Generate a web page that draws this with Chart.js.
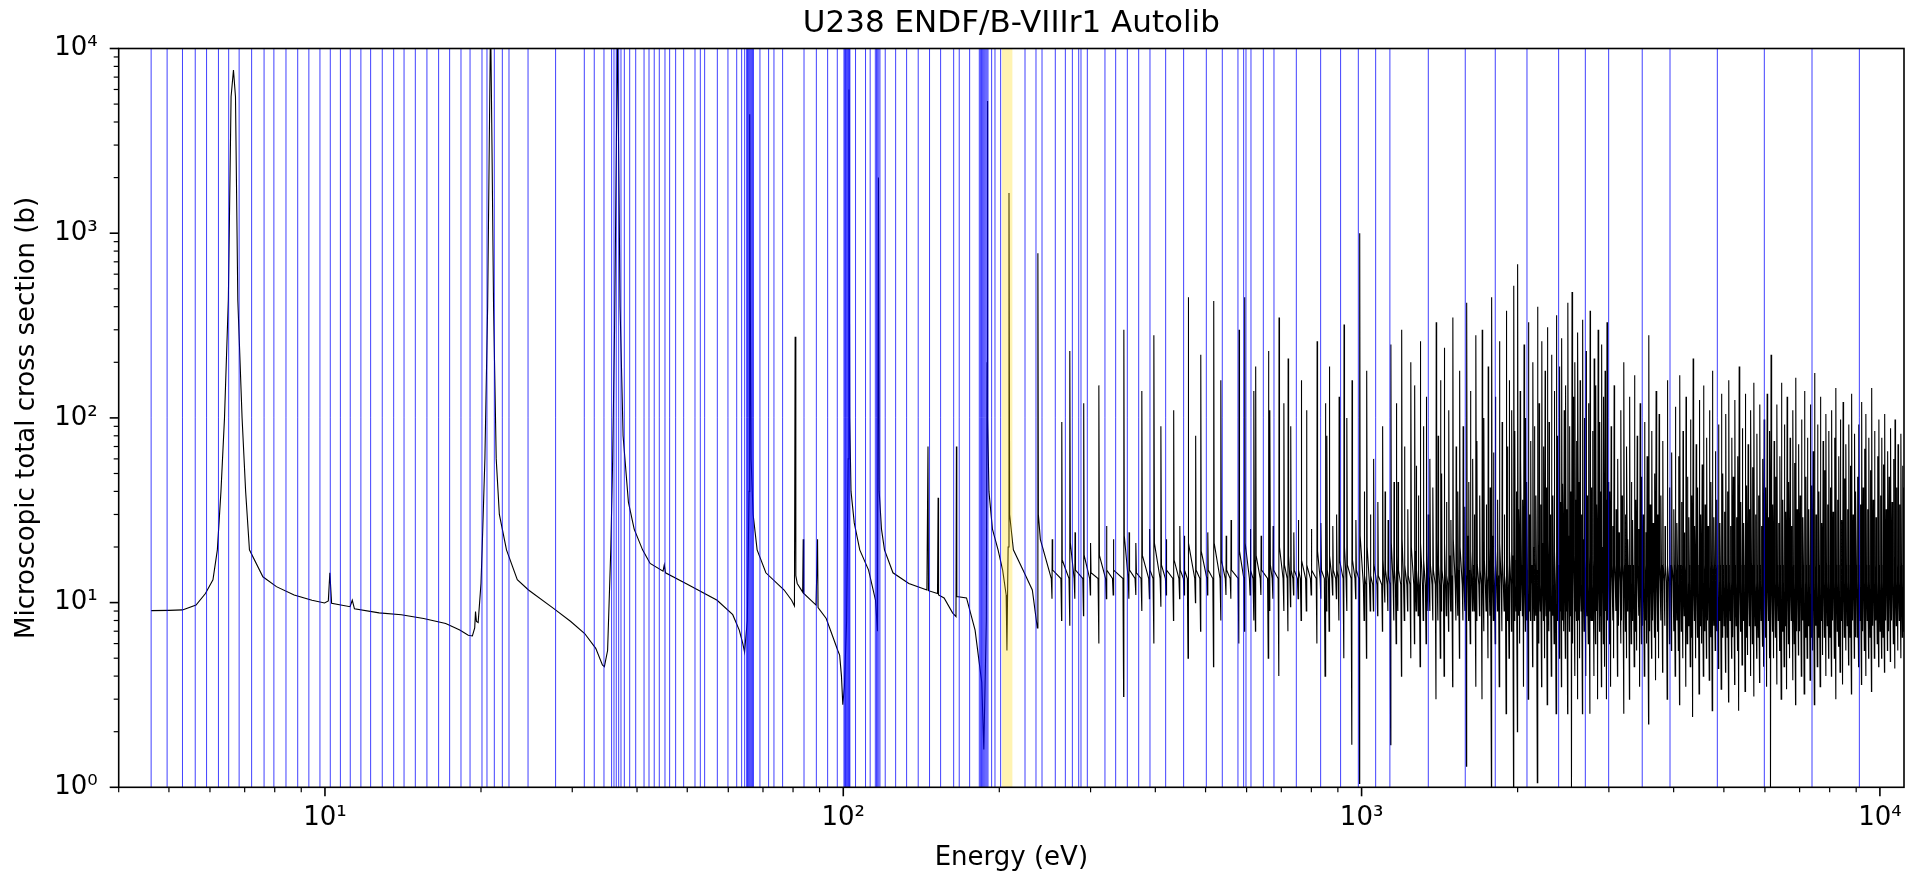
<!DOCTYPE html>
<html>
<head>
<meta charset="utf-8">
<title>U238 ENDF/B-VIIIr1 Autolib</title>
<script src="https://cdn.jsdelivr.net/npm/chart.js@4.4.1/dist/chart.umd.min.js"></script>
<style>
  html, body { margin: 0; padding: 0; background: #fff; }
  canvas { display: block; }
</style>
</head>
<body>
<canvas id="xsChart" width="1923" height="875"></canvas>
<script>
// smooth part of the curve, read point by point (eV, barns)
const lowE = [
  4.62, 5.0, 5.31, 5.64, 5.88, 6.08, 6.2, 6.3, 6.4, 6.51,
  6.59, 6.66, 6.72, 6.79, 6.92, 7.03, 7.15, 7.59, 8.06, 8.72,
  9.44, 9.98, 10.15, 10.22, 10.3, 11.18, 11.29, 11.4, 12.72, 14.04,
  15.5, 17.1, 18.2, 18.9, 19.25, 19.45, 19.52, 19.6, 19.75, 20.0,
  20.1, 20.35, 20.6, 20.75, 20.87, 21.0, 21.15, 21.4, 21.7, 22.4,
  23.5, 24.7, 27.6, 29.8, 31.7, 33.3, 34.3, 34.6, 35.1, 35.6,
  35.9, 36.2, 36.5, 36.68, 36.85, 37.1, 37.6, 38.5, 39.5, 41.0,
  42.4, 44.9, 45.15, 45.4, 49.7, 57.1, 61.2, 63.0, 64.0, 64.5,
  65.3, 65.8, 65.95, 66.03, 66.15, 66.4, 67.0, 68.2, 70.9, 76.9,
  79.5, 80.5, 80.75, 81.0, 81.5, 83.5, 83.7, 83.9, 88.6, 89.2,
  89.4, 92.7, 97.6, 98.4, 99.2, 99.8, 100.5, 101.5, 102.2, 102.56,
  102.9, 103.5, 105.0, 107.6, 111.9, 115.4, 116.4, 116.9, 117.3, 118.5,
  120.1, 124.7, 133.8, 145.0, 145.7, 146.0, 152.0, 152.4, 152.7, 156.5,
  162.5, 165.0, 165.3, 165.6, 172.9, 179.6, 185.0, 186.7, 188.8, 189.4,
  189.7, 190.0, 191.0, 194.0, 198.9, 203.0, 206.2, 206.9, 208.0, 208.8,
  209.4, 212.9, 222.2, 231.6, 236.8, 237.4, 237.9, 240.0
];
const lowXS = [
  9.05, 9.08, 9.13, 9.7, 11.2, 13.3, 19.3, 40, 100, 435,
  5480, 7650, 5480, 435, 100, 40, 19.3, 13.8, 12.2, 11.0,
  10.3, 9.95, 10.2, 14.5, 9.9, 9.5, 10.3, 9.25, 8.8, 8.6,
  8.2, 7.7, 7.1, 6.65, 6.6, 7.3, 8.95, 7.9, 7.8, 12.7,
  19.3, 60, 400, 3000, 15000, 3000, 400, 60, 30, 19.3,
  13.3, 11.7, 9.3, 7.9, 6.8, 5.65, 4.6, 4.5, 5.5, 19.3,
  60, 300, 3000, 15000, 3000, 400, 80, 35, 25, 19.3,
  16.3, 14.8, 16.0, 14.5, 12.7, 10.3, 8.6, 7.1, 6.0, 5.4,
  8.0, 40, 600, 4400, 500, 60, 30, 19.3, 14.5, 11.7,
  10.3, 9.6, 275, 14, 12.7, 11.4, 22, 11.2, 9.7, 22,
  9.4, 8.2, 5.5, 5.2, 4.0, 2.8, 3.5, 8.0, 60, 6000,
  100, 40, 27, 19.3, 15.0, 10.3, 7.0, 2000, 40, 25,
  19.3, 14.5, 12.7, 11.7, 70, 11.6, 11.2, 37, 11.0, 10.6,
  8.8, 8.4, 70, 10.8, 10.6, 7.1, 3.7, 1.6, 8.0, 200,
  5200, 100, 40, 25, 19.3, 15, 11, 5.5, 20, 1650,
  30, 19.3, 15, 11.7, 7.3, 780, 30, 22
];

// resolved resonances 240 eV - 1 keV: energy, peak, dip below it, level just after
const midE = [
  253, 264.0, 273.7, 280, 291.0, 300, 311.4, 322, 332, 347.8,
  356, 367, 376.9, 390, 397.6, 410.2, 420, 434.0, 446, 455,
  463.0, 478.5, 489.5, 505, 518.5, 535.4, 548, 560, 580.2, 595.0,
  610, 619.9, 624.7, 640, 661.2, 665.5, 675, 693.0, 708.4, 721.6,
  730.0, 740, 755, 765.0, 783.0, 800, 820.7, 835, 851.0, 857.0,
  866.5, 880, 895, 905.0, 925.0, 937.0, 958.5, 975, 991.7
];
const midPeak = [
  22, 95, 230, 24, 120, 21, 150, 26, 22, 300,
  24, 21, 140, 25, 280, 90, 22, 110, 26, 23,
  450, 80, 220, 24, 430, 160, 23, 28, 300, 450,
  25, 140, 190, 23, 230, 110, 26, 350, 120, 210,
  90, 24, 28, 160, 110, 25, 260, 27, 120, 80,
  190, 26, 30, 130, 320, 100, 160, 28, 1000
];
const midDip = [
  10.5, 8, 7.5, 10.5, 8.5, 11, 6, 10.5, 11, 3.1,
  10.5, 11, 9, 10.5, 6, 9.5, 11, 8, 10.5, 11,
  5, 10, 7, 11, 4.5, 8, 11, 10.5, 6, 7,
  11, 8, 7, 11, 5, 9, 10.5, 4, 9, 7,
  9.5, 11, 10.5, 8, 9, 11, 6, 10.5, 4, 9,
  7, 11, 10.5, 8, 5, 9, 1.7, 10.5, 1.05
];
const midPost = [
  15, 17, 21, 15, 18, 14.5, 18, 15, 15, 23,
  15, 14.5, 18, 15, 21, 16, 15, 17, 15, 15,
  21, 15, 19, 15, 21, 17, 15, 15, 19, 21,
  15, 17, 18, 15, 19, 16, 15, 20, 16, 18,
  15, 15, 15, 17, 16, 15, 19, 15, 17, 15,
  18, 15, 15, 17, 20, 16, 17, 15, 23
];

// 1 - 3 keV
const kevE = [
  1012, 1023, 1040, 1055, 1075, 1098, 1110, 1125, 1139, 1155,
  1167, 1176, 1195, 1210, 1228, 1245, 1266, 1275, 1287, 1298,
  1316, 1333, 1344, 1355, 1373, 1393, 1405, 1420, 1427, 1444,
  1458, 1473, 1487, 1500, 1522, 1534, 1546, 1570, 1583, 1595,
  1610, 1622, 1638, 1650, 1662, 1669, 1690, 1709, 1722, 1740,
  1755, 1770, 1782, 1797, 1812, 1830, 1845, 1867, 1885, 1902,
  1912, 1927, 1948, 1966, 1975, 1988, 2000, 2012, 2023, 2030,
  2045, 2058, 2072, 2085, 2098, 2110, 2120, 2140, 2155, 2170,
  2185, 2200, 2214, 2227, 2245, 2260, 2272, 2283, 2300, 2312,
  2325, 2340, 2354, 2375, 2390, 2410, 2421, 2432, 2446, 2460,
  2475, 2488, 2500, 2520, 2533, 2547, 2560, 2580, 2590, 2600,
  2615, 2628, 2640, 2655, 2670, 2690, 2710, 2725, 2740, 2760,
  2775, 2790, 2810, 2830, 2845, 2860, 2880, 2893, 2905, 2930,
  2950, 2962, 2975, 2990
];
const kevPeak = [
  40, 180, 30, 60, 35, 90, 40, 28, 250, 45,
  120, 45, 300, 70, 32, 200, 150, 55, 38, 260,
  90, 130, 30, 60, 42, 330, 80, 160, 50, 240,
  35, 110, 28, 350, 70, 40, 180, 90, 33, 420,
  45, 140, 60, 30, 280, 75, 38, 300, 100, 34,
  190, 42, 450, 65, 130, 36, 260, 95, 30, 380,
  70, 160, 110, 520, 85, 40, 680, 32, 140, 60,
  36, 250, 100, 45, 330, 30, 75, 200, 90, 38,
  400, 120, 34, 260, 70, 180, 42, 310, 95, 30,
  220, 38, 140, 360, 80, 190, 35, 270, 44, 110,
  150, 32, 420, 90, 40, 480, 130, 200, 36, 75,
  290, 45, 160, 30, 340, 100, 230, 38, 120, 380,
  42, 85, 210, 150, 34, 300, 95, 40, 250, 130,
  180, 36, 330, 45
];
const kevDip = [
  8, 5, 9, 9, 8.5, 7, 10, 9, 1.7, 8,
  6, 9, 4, 8, 9, 5, 6, 9, 8.5, 4.5,
  8, 6, 9, 9, 8, 3, 8, 5, 9, 4,
  8.5, 7, 9, 3.5, 8, 8.5, 5, 8, 9, 1.3,
  8, 6, 9, 9, 3.5, 8, 8.5, 3, 7, 9,
  5, 8.5, 1.0, 8, 6, 9, 3.5, 7, 9, 2.5,
  8, 5, 7, 1.0, 8, 9, 2, 8.5, 6, 9,
  8.5, 3.5, 7, 8, 3, 9, 8, 4.5, 8, 8.5,
  1.06, 6, 9, 3.5, 8, 5, 8.5, 2.8, 7, 9,
  4, 8.5, 6, 2.5, 8, 5, 9, 3.5, 8, 7,
  5, 9, 2.5, 7, 8.5, 1.0, 6, 4, 9, 8,
  3, 8, 5, 9, 2.5, 7, 4, 8.5, 6, 2.5,
  8, 8, 4, 6, 9, 3, 7, 8.5, 3.5, 6,
  4.5, 9, 3, 8
];
const kevPost = [
  14, 20, 14, 16, 14, 17, 15, 14, 21, 15,
  18, 15, 22, 16, 14, 20, 19, 15, 14, 21,
  17, 19, 14, 16, 15, 22, 16, 19, 15, 21,
  14, 18, 14, 22, 16, 15, 20, 17, 14, 23,
  15, 19, 16, 14, 21, 16, 15, 22, 17, 14,
  20, 15, 23, 16, 19, 14, 21, 17, 14, 22,
  16, 19, 18, 23, 17, 15, 24, 14, 19, 16,
  14, 21, 17, 15, 22, 14, 16, 20, 17, 15,
  22, 18, 14, 21, 16, 19, 15, 22, 17, 14,
  20, 15, 19, 22, 16, 20, 14, 21, 15, 18,
  19, 14, 23, 17, 15, 23, 18, 20, 14, 16,
  21, 15, 19, 14, 22, 17, 20, 15, 18, 22,
  15, 17, 20, 19, 14, 21, 17, 15, 20, 18,
  19, 14, 21, 15
];

// 3 - 11 keV band
const hiE = [
  3012, 3030, 3055, 3071, 3098, 3120, 3138, 3165, 3180, 3207,
  3231, 3250, 3262, 3290, 3315, 3333, 3360, 3381, 3402, 3428,
  3447, 3470, 3492, 3515, 3540, 3555, 3582, 3604, 3630, 3651,
  3677, 3700, 3728, 3750, 3781, 3812, 3850, 3890, 3930, 3965,
  4005, 4031, 4060, 4088, 4110, 4142, 4170, 4195, 4226, 4251,
  4280, 4310, 4335, 4362, 4390, 4421, 4450, 4482, 4510, 4540,
  4568, 4600, 4632, 4660, 4690, 4722, 4752, 4785, 4815, 4848,
  4880, 4912, 4945, 4975,
  5010, 5042, 5078, 5110, 5145, 5180, 5212, 5250, 5285, 5318,
  5352, 5390, 5425, 5460, 5498, 5530, 5568, 5605, 5640, 5678,
  5715, 5750, 5790, 5828, 5865, 5905, 5942, 5980,
  6020, 6060, 6100, 6135, 6166, 6210, 6250, 6290, 6330, 6372,
  6412, 6455, 6495, 6540, 6580, 6622, 6665, 6710, 6750, 6795,
  6840, 6882, 6925, 6970,
  7015, 7060, 7105, 7150, 7198, 7245, 7290, 7340, 7385, 7432,
  7480, 7530, 7578, 7625, 7675, 7722, 7770, 7820, 7870, 7920,
  7970,
  8020, 8070, 8122, 8175, 8226, 8280, 8330, 8385, 8440, 8492,
  8545, 8600, 8655, 8710, 8765, 8820, 8878, 8935, 8990,
  9048, 9105, 9165, 9222, 9282, 9340, 9400, 9460, 9520, 9582,
  9642, 9705, 9765, 9830, 9892, 9955,
  10020, 10085, 10150, 10215, 10282, 10350, 10418, 10485, 10555, 10625,
  10695, 10765, 10838, 10910, 10982, 11055, 11120
];
const hiPeak = [
  40, 90, 26, 150, 32, 60, 24, 110, 38, 200,
  30, 70, 22, 130, 45, 28, 170, 36, 80, 25,
  120, 48, 30, 95, 24, 62, 280, 34, 85, 27,
  50, 140, 30, 105, 38, 75, 26, 160, 42, 65,
  32, 115, 27, 62, 170, 35, 85, 24, 130, 48,
  29, 98, 38, 210, 26, 72, 42, 125, 30, 56,
  150, 34, 78, 26, 110, 45, 180, 29, 66, 36,
  92, 27, 135, 50,
  31, 105, 40, 160, 26, 78, 48, 125, 29, 62,
  190, 35, 88, 27, 135, 43, 72, 32, 110, 54,
  155, 30, 82, 38, 118, 26, 60, 98,
  42, 135, 29, 85, 220, 34, 75, 48, 118, 27,
  62, 155, 36, 92, 31, 130, 45, 78, 26, 110,
  57, 165, 32, 72,
  38, 98, 29, 140, 48, 78, 32, 118, 43, 66,
  175, 30, 92, 40, 130, 27, 75, 52, 105, 34,
  85,
  42, 110, 31, 78, 145, 36, 62, 98, 28, 122,
  47, 72, 32, 92, 55, 135, 30, 82, 40,
  48, 92, 34, 122, 42, 68, 105, 32, 78, 52,
  145, 36, 85, 29, 62, 98,
  38, 78, 56, 105, 32, 66, 48, 88, 35, 60,
  98, 42, 72, 34, 82, 55, 42
];
const hiDip = [
  6, 3.5, 8, 5, 9, 4, 7.5, 6, 8, 2.5,
  7, 5, 9, 3, 6, 8, 4.5, 7, 5.5, 8.5,
  3.5, 6, 7.5, 4, 8, 6, 2.2, 7, 5, 8,
  6.5, 3.8, 7, 5, 8, 4.2, 7.5, 3, 6, 5.5,
  7, 4, 8, 5.5, 2.8, 7, 5, 8.5, 3.5, 6,
  7.5, 4.5, 6.5, 2.4, 8, 5, 6.5, 3.2, 7.5, 6,
  4, 7, 5, 8, 3.8, 6.5, 2.6, 7.5, 5.5, 7,
  4.4, 8, 3.4, 6.5,
  7.5, 4.2, 6.5, 2.9, 8, 5, 6.5, 3.6, 7.5, 5.5,
  2.6, 7, 4.6, 8, 3.3, 6.5, 5.2, 7.5, 4, 6,
  3.1, 7.5, 5, 6.5, 3.7, 8, 5.8, 4.5,
  6.5, 3.5, 8, 5, 1.0, 7, 5, 6.5, 3.6, 8,
  5.5, 3, 7, 4.5, 7.5, 3.4, 6, 5, 8, 3.8,
  6, 2.8, 7, 5.2,
  7, 4, 8, 3.2, 6.5, 5, 7.5, 3.8, 6.5, 5.5,
  2.8, 7.5, 4.5, 6.5, 3.5, 8, 5.2, 6.5, 4, 7.5,
  5,
  6.5, 4, 8, 5, 3, 7, 5.8, 4.2, 8, 3.6,
  6.5, 5.5, 7.5, 4.6, 6.5, 3.2, 8, 5, 6.5,
  6.5, 4.5, 8, 3.6, 7, 5.5, 4, 8, 5, 6.5,
  3.3, 7.5, 5, 8, 6, 4.5,
  7, 5, 6.5, 4.2, 8, 5.5, 7, 4.8, 8, 6,
  4.4, 7.5, 5.5, 8, 5, 6.5, 7
];

// level the curve sits on before each resonance, per band (b), and the tail level in the 3-11 keV band
const preLevel = [13.5, 12.5, 13];
const hiTail = 16;

// group boundaries (eV) drawn as vertical lines
const groupBounds = [
  4.62, 4.96, 5.31, 5.62, 5.91, 6.23, 6.52, 6.83, 7.22, 7.63,
  7.97, 8.41, 8.86, 9.31, 9.78, 10.24, 10.71, 11.19, 11.73, 12.25,
  12.9, 13.57, 14.21, 14.94, 15.73, 16.57, 17.4, 18.3, 19.05, 20.09,
  20.54, 21.22, 21.99, 22.65, 24.65, 27.86, 31.65, 33.08, 34.54, 35.73,
  36.11, 36.48, 36.87, 37.25, 37.81, 38.72, 39.77, 41.27, 42.19, 43.18,
  44.16, 45.29, 46.24, 47.49, 49.21, 51.75, 52.99, 54.02, 57.15, 59.91,
  62.29, 63.67, 64.53, 65.1, 65.35, 65.6, 65.85, 66.1, 66.35, 66.6,
  66.85, 67.1, 69.06, 71.77, 73.5, 76.38, 84.0, 88.73, 93.29, 97.38,
  100.3, 100.65, 101.0, 101.35, 101.7, 102.05, 102.4, 102.75, 103.0, 105.6,
  110.4, 112.7, 115.3, 115.9, 116.5, 117.1, 117.7, 120.5, 126.2, 132.5,
  139.5, 146.7, 154.1, 163.3, 167.4, 175.3, 183.0, 183.9, 184.8, 185.7,
  186.6, 187.5, 188.4, 189.3, 190.2, 193.3, 196.2, 201.2, 224.2, 235.4,
  241.8, 256.5, 268.2, 276.7, 284.6, 287.5, 295.7, 319.8, 335.4, 353.2,
  371.5, 390.6, 418.8, 453.6, 501.7, 538.6, 577.4, 592.2, 598.4, 611.8,
  646.3, 677.6, 748.3, 833.7, 911.0, 985.6, 1064.5, 1134, 1345, 1585,
  1811, 2085, 2400, 2702, 2997, 3479, 3936, 4857, 5984, 7396, 9128
];

// highlighted group (eV)
const highlight = [202.4, 212.2];

const xMajor = [10, 100, 1000, 10000];
const xMinor = [4, 5, 6, 7, 8, 9, 20, 30, 40, 50, 60, 70, 80, 90,
  200, 300, 400, 500, 600, 700, 800, 900, 2000, 3000, 4000, 5000, 6000, 7000, 8000, 9000];
const yMajor = [1, 10, 100, 1000, 10000];
const yMinor = [2, 3, 4, 5, 6, 7, 8, 9, 20, 30, 40, 50, 60, 70, 80, 90,
  200, 300, 400, 500, 600, 700, 800, 900, 2000, 3000, 4000, 5000, 6000, 7000, 8000, 9000];
const powLabels = { 1: "10\u2070", 10: "10\u00b9", 100: "10\u00b2", 1000: "10\u00b3", 10000: "10\u2074" };

const curve = [];
lowE.forEach((e, i) => curve.push({ x: e, y: lowXS[i] }));

function addResonance(e, peak, dip, before, after) {
  curve.push({ x: e * 0.996, y: before });
  curve.push({ x: e * 0.999, y: dip });
  curve.push({ x: e, y: peak });
  curve.push({ x: e * 1.002, y: after });
}
midE.forEach((e, i) => addResonance(e, midPeak[i], midDip[i], preLevel[0], midPost[i]));
kevE.forEach((e, i) => addResonance(e, kevPeak[i], kevDip[i], preLevel[1], kevPost[i]));
hiE.forEach((e, i) => addResonance(e, hiPeak[i], hiDip[i], preLevel[2], hiTail));

const bounds = [];
groupBounds.forEach(e => {
  bounds.push({ x: e, y: 1 }, { x: e, y: 10000 }, { x: e, y: null });
});

const frame = {
  id: "frame",
  afterDraw(chart) {
    const { ctx, chartArea: a, scales } = chart;
    ctx.save();
    ctx.strokeStyle = "#000";
    const xTick = (v, len, w) => {
      const px = scales.x.getPixelForValue(v);
      ctx.lineWidth = w;
      ctx.beginPath();
      ctx.moveTo(px, a.bottom);
      ctx.lineTo(px, a.bottom + len);
      ctx.stroke();
    };
    const yTick = (v, len, w) => {
      const py = scales.y.getPixelForValue(v);
      ctx.lineWidth = w;
      ctx.beginPath();
      ctx.moveTo(a.left, py);
      ctx.lineTo(a.left - len, py);
      ctx.stroke();
    };
    xMinor.forEach(v => xTick(v, 5, 1.2));
    xMajor.forEach(v => xTick(v, 9, 1.6));
    yMinor.forEach(v => yTick(v, 5, 1.2));
    yMajor.forEach(v => yTick(v, 9, 1.6));
    ctx.lineWidth = 1.6;
    ctx.strokeRect(a.left, a.top, a.right - a.left, a.bottom - a.top);
    ctx.restore();
  }
};

Chart.defaults.font.family = "'DejaVu Sans', sans-serif";
Chart.defaults.color = "#000";

new Chart(document.getElementById("xsChart"), {
  type: "scatter",
  data: {
    datasets: [
      {
        data: curve,
        showLine: true,
        borderColor: "#000",
        borderWidth: 1.1,
        pointRadius: 0,
        tension: 0,
        order: 3
      },
      {
        data: bounds,
        showLine: true,
        spanGaps: false,
        borderColor: "rgba(0, 0, 255, 0.75)",
        borderWidth: 1,
        pointRadius: 0,
        order: 2
      },
      {
        data: [{ x: highlight[0], y: 10000 }, { x: highlight[1], y: 10000 }],
        showLine: true,
        fill: "start",
        backgroundColor: "rgba(255, 215, 0, 0.3)",
        borderWidth: 0,
        pointRadius: 0,
        order: 1
      }
    ]
  },
  options: {
    responsive: false,
    devicePixelRatio: 1,
    animation: false,
    layout: { padding: { left: 0, right: 19, top: 0, bottom: 0 } },
    plugins: {
      legend: { display: false },
      tooltip: { enabled: false },
      title: {
        display: true,
        fullSize: false,
        text: "U238 ENDF/B-VIIIr1 Autolib",
        color: "#000",
        font: { size: 31, weight: "normal", lineHeight: 1.2 },
        padding: { top: 5, bottom: 6.3 }
      }
    },
    scales: {
      x: {
        type: "logarithmic",
        min: 4,
        max: 11130,
        grid: { display: false, drawTicks: false },
        border: { display: false },
        afterBuildTicks: s => { s.ticks = xMajor.map(v => ({ value: v })); },
        afterFit: s => { s.height = 87.7; },
        ticks: {
          autoSkip: false,
          maxRotation: 0,
          padding: 15,
          font: { size: 26, lineHeight: 1.2 },
          callback: v => powLabels[v] || ""
        },
        title: {
          display: true,
          text: "Energy (eV)",
          font: { size: 26, lineHeight: 1.2 },
          padding: { top: 0, bottom: 1.4 }
        }
      },
      y: {
        type: "logarithmic",
        min: 1,
        max: 10000,
        grid: { display: false, drawTicks: false },
        border: { display: false },
        afterBuildTicks: s => { s.ticks = yMajor.map(v => ({ value: v })); },
        afterFit: s => { s.width = 118.7; },
        ticks: {
          autoSkip: false,
          padding: 21,
          font: { size: 26, lineHeight: 1.2 },
          callback: v => powLabels[v] || ""
        },
        title: {
          display: true,
          text: "Microscopic total cross section (b)",
          font: { size: 26, lineHeight: 1.2 },
          padding: { top: 11.4, bottom: 0 }
        }
      }
    }
  },
  plugins: [frame]
});
</script>
</body>
</html>
